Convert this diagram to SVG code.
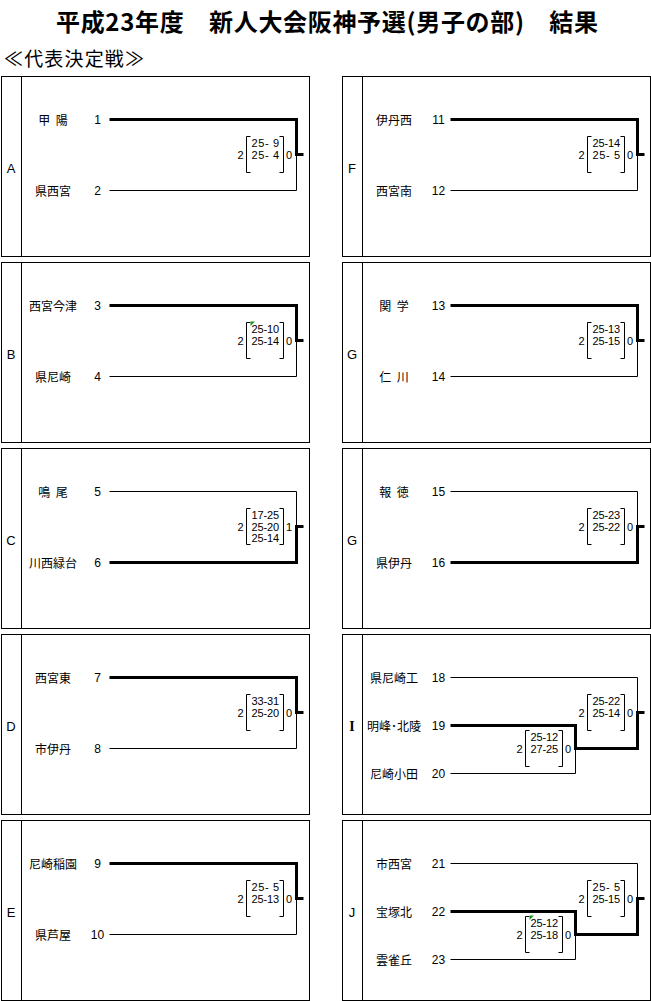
<svg xmlns="http://www.w3.org/2000/svg" xmlns:xlink="http://www.w3.org/1999/xlink" width="651" height="1001" viewBox="0 0 651 1001">
<style>
.frame{fill:none;stroke:#000;stroke-width:1}
.ttl{font-family:"Noto Sans CJK JP","Noto Sans CJK SC",sans-serif;font-size:24px;font-weight:bold;dominant-baseline:central}
.sub{font-family:"Noto Sans CJK JP","Noto Sans CJK SC",sans-serif;font-size:19px;dominant-baseline:central}
.nm{font-family:"Noto Sans CJK JP","Noto Sans CJK SC",sans-serif;font-size:12px;text-anchor:middle;dominant-baseline:central;word-spacing:3px}
.no{font-family:"Liberation Sans",Arial,sans-serif;font-size:12px;text-anchor:middle;dominant-baseline:central}
.sc{font-family:"Liberation Sans",Arial,sans-serif;font-size:11px;dominant-baseline:central}
.scm{font-family:"Liberation Sans",Arial,sans-serif;font-size:11px;text-anchor:middle;dominant-baseline:central}
.lb{font-family:"Liberation Sans",Arial,sans-serif;font-size:13px;text-anchor:middle;dominant-baseline:central}
.lbs{font-family:"Liberation Serif","Times New Roman",serif;font-size:14px;font-weight:bold;text-anchor:middle;dominant-baseline:central}
.thin{fill:none;stroke:#000;stroke-width:1}
.thick{fill:none;stroke:#000;stroke-width:3;stroke-linejoin:miter}
.brk{fill:none;stroke:#000;stroke-width:1}
.mark{fill:#1a9a1a}
</style>
<defs>
<path id="brk" class="brk" d="M4,-18 H0 V18 H4 M33,-18 H37 V18 H33"/>
<g id="frame"><rect class="frame" x="1.5" y="0.5" width="308" height="180"/><line class="frame" x1="21.5" y1="0.5" x2="21.5" y2="180.5"/></g>
</defs>
<rect width="651" height="1001" fill="#fff"/>
<text class="ttl" x="56" y="20" textLength="542" lengthAdjust="spacing">平成23年度　新人大会阪神予選(男子の部)　結果</text>
<text class="sub" x="4" y="57" textLength="140" lengthAdjust="spacing">≪代表決定戦≫</text>

<!-- Panels -->
<g id="panel-A" transform="translate(0,76)"><use xlink:href="#frame"/><text class="lb" x="11" y="92">A</text>
 <g id="team-1"><text class="nm" x="53" y="43.5">甲 陽</text><text class="no" x="97.5" y="43.5">1</text></g>
 <g id="team-2"><text class="nm" x="53" y="114.5">県西宮</text><text class="no" x="97.5" y="114.5">2</text></g>
 <g id="score-A"><use xlink:href="#brk" x="246.5" y="78.5"/><text class="scm" x="240.5" y="78.5">2</text><text class="scm" x="289" y="78.5">0</text><text class="sc" x="251.5" y="67" textLength="27.5" lengthAdjust="spacing">25- 9</text><text class="sc" x="251.5" y="78.5" textLength="27.5" lengthAdjust="spacing">25- 4</text></g>
</g>
<g id="panel-B" transform="translate(0,262)"><use xlink:href="#frame"/><text class="lb" x="11" y="92">B</text>
 <g id="team-3"><text class="nm" x="53" y="43.5">西宮今津</text><text class="no" x="97.5" y="43.5">3</text></g>
 <g id="team-4"><text class="nm" x="53" y="114.5">県尼崎</text><text class="no" x="97.5" y="114.5">4</text></g>
 <g id="score-B"><use xlink:href="#brk" x="246.5" y="78.5"/><text class="scm" x="240.5" y="78.5">2</text><text class="scm" x="289" y="78.5">0</text><text class="sc" x="251.5" y="67" textLength="27.5" lengthAdjust="spacing">25-10</text><text class="sc" x="251.5" y="78.5" textLength="27.5" lengthAdjust="spacing">25-14</text><polygon class="mark" points="250.5,59.5 255,59.5 250.5,64"/></g>
</g>
<g id="panel-C" transform="translate(0,448)"><use xlink:href="#frame"/><text class="lb" x="11" y="92">C</text>
 <g id="team-5"><text class="nm" x="53" y="43.5">鳴 尾</text><text class="no" x="97.5" y="43.5">5</text></g>
 <g id="team-6"><text class="nm" x="53" y="114.5">川西緑台</text><text class="no" x="97.5" y="114.5">6</text></g>
 <g id="score-C"><use xlink:href="#brk" x="246.5" y="78.5"/><text class="scm" x="240.5" y="78.5">2</text><text class="scm" x="289" y="78.5">1</text><text class="sc" x="251.5" y="67" textLength="27.5" lengthAdjust="spacing">17-25</text><text class="sc" x="251.5" y="78.5" textLength="27.5" lengthAdjust="spacing">25-20</text><text class="sc" x="251.5" y="90" textLength="27.5" lengthAdjust="spacing">25-14</text></g>
</g>
<g id="panel-D" transform="translate(0,634)"><use xlink:href="#frame"/><text class="lb" x="11" y="92">D</text>
 <g id="team-7"><text class="nm" x="53" y="43.5">西宮東</text><text class="no" x="97.5" y="43.5">7</text></g>
 <g id="team-8"><text class="nm" x="53" y="114.5">市伊丹</text><text class="no" x="97.5" y="114.5">8</text></g>
 <g id="score-D"><use xlink:href="#brk" x="246.5" y="78.5"/><text class="scm" x="240.5" y="78.5">2</text><text class="scm" x="289" y="78.5">0</text><text class="sc" x="251.5" y="67" textLength="27.5" lengthAdjust="spacing">33-31</text><text class="sc" x="251.5" y="78.5" textLength="27.5" lengthAdjust="spacing">25-20</text></g>
</g>
<g id="panel-E" transform="translate(0,820)"><use xlink:href="#frame"/><text class="lb" x="11" y="92">E</text>
 <g id="team-9"><text class="nm" x="53" y="43.5">尼崎稲園</text><text class="no" x="97.5" y="43.5">9</text></g>
 <g id="team-10"><text class="nm" x="53" y="114.5">県芦屋</text><text class="no" x="97.5" y="114.5">10</text></g>
 <g id="score-E"><use xlink:href="#brk" x="246.5" y="78.5"/><text class="scm" x="240.5" y="78.5">2</text><text class="scm" x="289" y="78.5">0</text><text class="sc" x="251.5" y="67" textLength="27.5" lengthAdjust="spacing">25- 5</text><text class="sc" x="251.5" y="78.5" textLength="27.5" lengthAdjust="spacing">25-13</text></g>
</g>

<g id="panel-F" transform="translate(341,76)"><use xlink:href="#frame"/><text class="lb" x="11" y="92">F</text>
 <g id="team-11"><text class="nm" x="53" y="43.5">伊丹西</text><text class="no" x="97.5" y="43.5">11</text></g>
 <g id="team-12"><text class="nm" x="53" y="114.5">西宮南</text><text class="no" x="97.5" y="114.5">12</text></g>
 <g id="score-F"><use xlink:href="#brk" x="246.5" y="78.5"/><text class="scm" x="240.5" y="78.5">2</text><text class="scm" x="289" y="78.5">0</text><text class="sc" x="251.5" y="67" textLength="27.5" lengthAdjust="spacing">25-14</text><text class="sc" x="251.5" y="78.5" textLength="27.5" lengthAdjust="spacing">25- 5</text></g>
</g>
<g id="panel-G1" transform="translate(341,262)"><use xlink:href="#frame"/><text class="lb" x="11" y="92">G</text>
 <g id="team-13"><text class="nm" x="53" y="43.5">関 学</text><text class="no" x="97.5" y="43.5">13</text></g>
 <g id="team-14"><text class="nm" x="53" y="114.5">仁 川</text><text class="no" x="97.5" y="114.5">14</text></g>
 <g id="score-G1"><use xlink:href="#brk" x="246.5" y="78.5"/><text class="scm" x="240.5" y="78.5">2</text><text class="scm" x="289" y="78.5">0</text><text class="sc" x="251.5" y="67" textLength="27.5" lengthAdjust="spacing">25-13</text><text class="sc" x="251.5" y="78.5" textLength="27.5" lengthAdjust="spacing">25-15</text></g>
</g>
<g id="panel-G2" transform="translate(341,448)"><use xlink:href="#frame"/><text class="lb" x="11" y="92">G</text>
 <g id="team-15"><text class="nm" x="53" y="43.5">報 徳</text><text class="no" x="97.5" y="43.5">15</text></g>
 <g id="team-16"><text class="nm" x="53" y="114.5">県伊丹</text><text class="no" x="97.5" y="114.5">16</text></g>
 <g id="score-G2"><use xlink:href="#brk" x="246.5" y="78.5"/><text class="scm" x="240.5" y="78.5">2</text><text class="scm" x="289" y="78.5">0</text><text class="sc" x="251.5" y="67" textLength="27.5" lengthAdjust="spacing">25-23</text><text class="sc" x="251.5" y="78.5" textLength="27.5" lengthAdjust="spacing">25-22</text></g>
</g>
<g id="panel-I" transform="translate(341,634)"><use xlink:href="#frame"/><text class="lbs" x="11" y="92">I</text>
 <g id="team-18"><text class="nm" x="53" y="43.5">県尼崎工</text><text class="no" x="97.5" y="43.5">18</text></g>
 <g id="team-19"><text class="nm" x="53" y="91.5">明峰･北陵</text><text class="no" x="97.5" y="91.5">19</text></g>
 <g id="team-20"><text class="nm" x="53" y="139.5">尼崎小田</text><text class="no" x="97.5" y="139.5">20</text></g>
 <g id="score-I1"><use xlink:href="#brk" x="184.5" y="114.5"/><text class="scm" x="178.5" y="114.5">2</text><text class="scm" x="227" y="114.5">0</text><text class="sc" x="189.5" y="103" textLength="27.5" lengthAdjust="spacing">25-12</text><text class="sc" x="189.5" y="114.5" textLength="27.5" lengthAdjust="spacing">27-25</text></g>
 <g id="score-I2"><use xlink:href="#brk" x="246.5" y="78.5"/><text class="scm" x="240.5" y="78.5">2</text><text class="scm" x="289" y="78.5">0</text><text class="sc" x="251.5" y="67" textLength="27.5" lengthAdjust="spacing">25-22</text><text class="sc" x="251.5" y="78.5" textLength="27.5" lengthAdjust="spacing">25-14</text></g>
</g>
<g id="panel-J" transform="translate(341,820)"><use xlink:href="#frame"/><text class="lb" x="11" y="92">J</text>
 <g id="team-21"><text class="nm" x="53" y="43.5">市西宮</text><text class="no" x="97.5" y="43.5">21</text></g>
 <g id="team-22"><text class="nm" x="53" y="91.5">宝塚北</text><text class="no" x="97.5" y="91.5">22</text></g>
 <g id="team-23"><text class="nm" x="53" y="139.5">雲雀丘</text><text class="no" x="97.5" y="139.5">23</text></g>
 <g id="score-J1"><use xlink:href="#brk" x="184.5" y="114.5"/><text class="scm" x="178.5" y="114.5">2</text><text class="scm" x="227" y="114.5">0</text><text class="sc" x="189.5" y="103" textLength="27.5" lengthAdjust="spacing">25-12</text><text class="sc" x="189.5" y="114.5" textLength="27.5" lengthAdjust="spacing">25-18</text><polygon class="mark" points="188.5,95.5 193,95.5 188.5,100"/></g>
 <g id="score-J2"><use xlink:href="#brk" x="246.5" y="78.5"/><text class="scm" x="240.5" y="78.5">2</text><text class="scm" x="289" y="78.5">0</text><text class="sc" x="251.5" y="67" textLength="27.5" lengthAdjust="spacing">25- 5</text><text class="sc" x="251.5" y="78.5" textLength="27.5" lengthAdjust="spacing">25-15</text></g>
</g>

<!-- Connectors -->
<g id="connectors">
 <g transform="translate(0,76)"><path class="thick" d="M109.5,43.5 H296.5 V78.5 H303.5"/><path class="thin" d="M109.5,114.5 H296.5 V78.5"/></g>
 <g transform="translate(0,262)"><path class="thick" d="M109.5,43.5 H296.5 V78.5 H303.5"/><path class="thin" d="M109.5,114.5 H296.5 V78.5"/></g>
 <g transform="translate(0,448)"><path class="thin" d="M109.5,43.5 H296.5 V78.5"/><path class="thick" d="M109.5,114.5 H296.5 V78.5 H303.5"/></g>
 <g transform="translate(0,634)"><path class="thick" d="M109.5,43.5 H296.5 V78.5 H303.5"/><path class="thin" d="M109.5,114.5 H296.5 V78.5"/></g>
 <g transform="translate(0,820)"><path class="thick" d="M109.5,43.5 H296.5 V78.5 H303.5"/><path class="thin" d="M109.5,114.5 H296.5 V78.5"/></g>
 <g transform="translate(341,76)"><path class="thick" d="M109.5,43.5 H296.5 V78.5 H303.5"/><path class="thin" d="M109.5,114.5 H296.5 V78.5"/></g>
 <g transform="translate(341,262)"><path class="thick" d="M109.5,43.5 H296.5 V78.5 H303.5"/><path class="thin" d="M109.5,114.5 H296.5 V78.5"/></g>
 <g transform="translate(341,448)"><path class="thin" d="M109.5,43.5 H296.5 V78.5"/><path class="thick" d="M109.5,114.5 H296.5 V78.5 H303.5"/></g>
 <g transform="translate(341,634)"><path class="thin" d="M109.5,43.5 H296.5 V78.5"/><path class="thin" d="M109.5,139.5 H234.5 V114.5"/><path class="thick" d="M109.5,91.5 H234.5 V114.5 H296.5 V78.5 H303.5"/></g>
 <g transform="translate(341,820)"><path class="thin" d="M109.5,43.5 H296.5 V78.5"/><path class="thin" d="M109.5,139.5 H234.5 V114.5"/><path class="thick" d="M109.5,91.5 H234.5 V114.5 H296.5 V78.5 H303.5"/></g>
</g>
</svg>
